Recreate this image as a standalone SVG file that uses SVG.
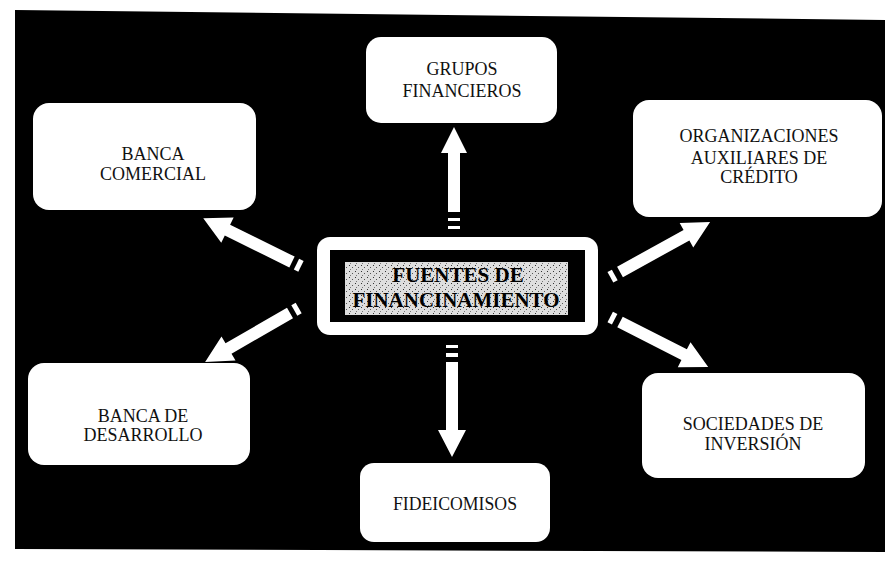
<svg xmlns="http://www.w3.org/2000/svg" width="895" height="564" viewBox="0 0 895 564">
<defs>
<pattern id="stip" width="6" height="6" patternUnits="userSpaceOnUse">
<rect width="6" height="6" fill="#dedede"/>
<rect x="1" y="1" width="1" height="1" fill="#333"/>
<rect x="4" y="3" width="1" height="1" fill="#555"/>
<rect x="2" y="5" width="1" height="1" fill="#777"/>
</pattern>
<style>
.box{fill:#fff;stroke:none}
.lbl{font-family:"Liberation Serif","Times New Roman",serif;font-size:18px;fill:#111;text-anchor:middle}
.ctr{font-family:"Liberation Serif","Times New Roman",serif;font-size:21px;font-weight:bold;fill:#000;text-anchor:middle}
.arr{fill:#fff}
</style>
</defs>
<rect width="895" height="564" fill="#fff"/>
<polygon points="15,10 885,20 885,552 15,549" fill="#000"/>

<g id="connectors">
<g transform="translate(454,212) rotate(-90)">
<polygon class="arr" points="0,-6 59,-6 59,-13 85,0 59,13 59,6 0,6"/>
<rect class="arr" x="-9" y="-6" width="3" height="12"/>
<rect class="arr" x="-17" y="-6" width="3" height="12"/>
</g>
<g transform="translate(452,362) rotate(90)">
<polygon class="arr" points="0,-6 68,-6 68,-14 95,0 68,14 68,6 0,6"/>
<rect class="arr" x="-9" y="-6" width="4" height="12"/>
<rect class="arr" x="-17" y="-6" width="3" height="12"/>
</g>
<g transform="translate(292,262) rotate(206.3)">
<polygon class="arr" points="0,-6 72,-6 72,-14 99,0 72,14 72,6 0,6"/>
<rect class="arr" x="-10" y="-6" width="5" height="12"/>
</g>
<g transform="translate(290,313) rotate(150)">
<polygon class="arr" points="0,-6 71,-6 71,-14 98,0 71,14 71,6 0,6"/>
<rect class="arr" x="-10" y="-6" width="5" height="12"/>
</g>
<g transform="translate(620,272) rotate(-29)">
<polygon class="arr" points="0,-6 76,-6 76,-14 103,0 76,14 76,6 0,6"/>
<rect class="arr" x="-11" y="-6" width="5" height="12"/>
</g>
<g transform="translate(620,322) rotate(27)">
<polygon class="arr" points="0,-6 72,-6 72,-14 99,0 72,14 72,6 0,6"/>
<rect class="arr" x="-11" y="-6" width="5" height="12"/>
</g>
</g>

<g id="center">
<rect x="317" y="237" width="281" height="98" rx="13" class="box"/>
<rect x="330" y="250" width="255" height="72" fill="#000"/>
<rect x="345" y="262" width="223" height="53" fill="url(#stip)"/>
<text class="ctr" x="458" y="282">FUENTES DE</text>
<text class="ctr" x="456" y="307" textLength="207" lengthAdjust="spacingAndGlyphs">FINANCINAMIENTO</text>
</g>

<g id="grupos">
<rect x="366" y="37" width="191" height="86" rx="15" class="box"/>
<text class="lbl" x="462" y="75">GRUPOS</text>
<text class="lbl" x="462" y="97">FINANCIEROS</text>
</g>

<g id="banca-comercial">
<rect x="33" y="103" width="223" height="107" rx="16" class="box"/>
<text class="lbl" x="153" y="160">BANCA</text>
<text class="lbl" x="153" y="180">COMERCIAL</text>
</g>

<g id="organizaciones">
<rect x="633" y="100" width="249" height="117" rx="16" class="box"/>
<text class="lbl" x="759" y="142">ORGANIZACIONES</text>
<text class="lbl" x="759" y="164">AUXILIARES DE</text>
<text class="lbl" x="759" y="183">CRÉDITO</text>
</g>

<g id="banca-desarrollo">
<rect x="28" y="363" width="222" height="102" rx="16" class="box"/>
<text class="lbl" x="143" y="422">BANCA DE</text>
<text class="lbl" x="143" y="441">DESARROLLO</text>
</g>

<g id="sociedades">
<rect x="642" y="373" width="223" height="105" rx="16" class="box"/>
<text class="lbl" x="753" y="430">SOCIEDADES DE</text>
<text class="lbl" x="753" y="450">INVERSIÓN</text>
</g>

<g id="fideicomisos">
<rect x="360" y="463" width="190" height="79" rx="14" class="box"/>
<text class="lbl" x="455" y="510" textLength="124" lengthAdjust="spacingAndGlyphs">FIDEICOMISOS</text>
</g>
</svg>
